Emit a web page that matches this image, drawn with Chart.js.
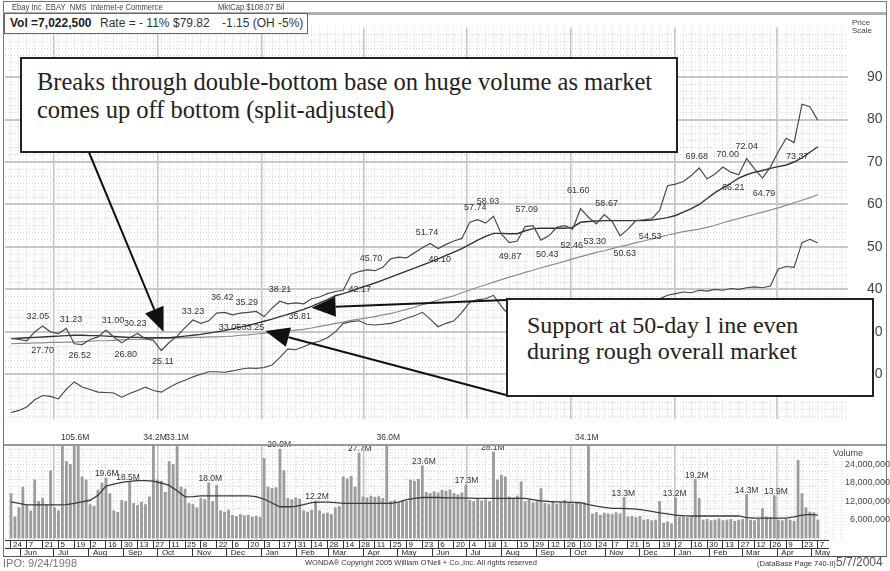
<!DOCTYPE html>
<html>
<head>
<meta charset="utf-8">
<title>EBAY daily chart</title>
<script src="https://cdn.jsdelivr.net/npm/chart.js@4.4.1/dist/chart.umd.min.js"></script>
<style>
  html, body { margin: 0; padding: 0; background: #fff; }
  body { width: 890px; height: 571px; position: relative; overflow: hidden;
         font-family: "Liberation Sans", Arial, sans-serif; color: #333; }
  canvas { position: absolute; left: 0; }
  #price { top: 0; }
  #vol { top: 420px; }
  .abs { position: absolute; white-space: nowrap; }
  .narrow { transform: scaleX(0.8); transform-origin: left center; }
  .line { position: absolute; background: #aaa; }
  .note { position: absolute; background: #fff; border: 2px solid #222;
          font-family: "Liberation Serif", "Times New Roman", serif; font-size: 24px; color: #222; }
  .note div { position: absolute; white-space: nowrap; }
</style>
</head>
<body>
<canvas id="price" width="890" height="446"></canvas>
<canvas id="vol" width="890" height="137"></canvas>

<!-- frame and panel rules -->
<div class="line" style="left:3px;top:1px;width:884px;height:1px;background:#777"></div>
<div class="line" style="left:3px;top:1px;width:1px;height:556px;background:#777"></div>
<div class="line" style="left:886px;top:1px;width:1px;height:556px;background:#777"></div>
<div class="line" style="left:3px;top:556px;width:884px;height:1px;background:#555"></div>
<div class="line" style="left:4px;top:12px;width:882px;height:3px;background:#b0b0b0"></div>
<div class="line" style="left:4px;top:444px;width:882px;height:2px;background:#999"></div>

<!-- header -->
<div class="abs narrow" style="left:12px;top:1px;font-size:9.5px;color:#444">Ebay Inc&nbsp; EBAY&nbsp; NMS&nbsp; Internet-e Commerce</div>
<div class="abs narrow" style="left:218px;top:1px;font-size:9.5px;color:#444">MktCap $108.07 Bil</div>
<div class="abs" style="left:4px;top:13px;width:302px;height:19px;border:1px solid #666;background:#fff"></div>
<div class="abs" style="left:10px;top:16px;font-size:12px;font-weight:bold;color:#222">Vol =7,022,500</div>
<div class="abs" style="left:100px;top:16px;font-size:12px;color:#333">Rate = - 11%</div>
<div class="abs" style="left:173px;top:16px;font-size:12px;color:#333">$79.82</div>
<div class="abs" style="left:222px;top:16px;font-size:12px;color:#333">-1.15 (OH -5%)</div>
<div class="abs" style="left:852px;top:19px;font-size:8px;line-height:8px;color:#444">Price<br>Scale</div>
<div class="abs" style="left:833px;top:448px;font-size:9px;color:#444">Volume</div>

<!-- footer -->
<div class="abs" style="left:3px;top:557px;font-size:11px;color:#777">IPO: 9/24/1998</div>
<div class="abs" style="left:305px;top:558px;font-size:7.5px;color:#333">WONDA® Copyright 2005 William O'Neil + Co.,Inc. All rights reserved</div>
<div class="abs" style="left:757px;top:559px;font-size:7.5px;color:#333">(DataBase Page 740-II)</div>
<div class="abs" style="left:836px;top:555px;font-size:12px;color:#555">5/7/2004</div>

<!-- annotations -->
<div class="note" style="left:20px;top:57px;width:654px;height:92px;font-size:24.5px">
  <div style="left:15px;top:9px">Breaks through double-bottom base on huge volume as market</div>
  <div style="left:15px;top:37px">comes up off bottom (split-adjusted)</div>
</div>
<div class="note" style="left:506px;top:298px;width:364px;height:95px">
  <div style="left:19px;top:12px">Support at 50-day l ine even</div>
  <div style="left:19px;top:38px">during rough overall market</div>
</div>

<script>
// ---- data (weekly closes from Fri 24 May 2002) ----
const START = Date.UTC(2002, 4, 24);
const dayOf = (y, m, d) => (Date.UTC(y, m, d) - START) / 864e5;

const price = [28.5, 28.2, 27.9, 30.0, 31.4, 30.0, 29.6, 30.8, 27.2, 27.0,
  28.2, 28.8, 30.4, 28.8, 27.4, 28.6, 29.6, 28.4, 28.0, 25.6,
  27.5, 29.0, 31.0, 32.8, 32.0, 32.6, 34.4, 34.6, 34.0, 34.4,
  34.6, 34.8, 33.6, 35.6, 37.2, 36.6, 36.8, 36.6, 37.8, 38.2,
  39.0, 39.5, 39.8, 43.5, 44.2, 44.6, 44.4, 45.2, 47.2, 47.6,
  47.4, 48.6, 49.8, 50.8, 49.6, 50.6, 51.4, 52.0, 55.8, 56.4,
  55.6, 57.2, 53.0, 51.0, 51.4, 54.8, 55.0, 51.6, 52.6, 54.6,
  55.0, 54.2, 59.0, 57.0, 55.4, 57.6, 56.0, 52.6, 54.2, 56.2,
  56.4, 56.6, 58.6, 64.4, 64.8, 65.4, 66.8, 68.6, 66.0, 67.2,
  68.8, 67.6, 67.0, 70.8, 68.4, 66.2, 68.8, 72.4, 75.6, 74.6,
  83.6, 83.0, 79.8];

const ma50 = [28.4, 28.5, 28.6, 28.7, 28.8, 28.9, 29.0, 29.1, 29.2, 29.2,
  29.1, 29.1, 29.0, 28.9, 28.8, 28.7, 28.7, 28.6, 28.6, 28.6,
  28.6, 28.8, 29.0, 29.2, 29.4, 29.7, 30.0, 30.3, 30.7, 31.1,
  31.5, 32.0, 32.5, 33.0, 33.6, 34.1, 34.7, 35.3, 36.0, 36.8,
  37.6, 38.5, 39.0, 39.6, 40.3, 40.9, 41.5, 42.2, 42.9, 43.6,
  44.3, 45.0, 45.7, 46.4, 47.2, 48.0, 48.8, 49.6, 50.6, 51.6,
  52.5, 53.2, 53.2, 53.1, 53.1, 53.8, 54.3, 54.4, 54.4, 54.4,
  54.4, 54.6, 55.8, 56.0, 56.1, 56.2, 56.2, 56.2, 56.2, 56.2,
  56.2, 56.3, 56.6, 56.9, 57.4, 58.2, 59.0, 60.0, 61.4, 62.8,
  63.9, 65.0, 66.2, 67.0, 67.6, 68.0, 68.5, 68.9, 69.3, 70.0,
  71.0, 72.3, 73.6];

const ma200 = [27.2, 27.3, 27.3, 27.4, 27.4, 27.5, 27.5, 27.6, 27.6, 27.7,
  27.8, 27.9, 27.9, 28.0, 28.1, 28.2, 28.2, 28.3, 28.4, 28.5,
  28.5, 28.6, 28.6, 28.7, 28.7, 28.8, 28.8, 28.9, 29.0, 29.2,
  29.3, 29.5, 29.7, 29.8, 30.0, 30.2, 30.4, 30.6, 30.9, 31.3,
  31.6, 32.0, 32.3, 32.7, 33.0, 33.3, 33.6, 34.0, 34.3, 34.8,
  35.3, 35.8, 36.4, 36.9, 37.5, 38.0, 38.5, 39.2, 39.8, 40.5,
  41.1, 41.7, 42.3, 42.9, 43.4, 44.0, 44.5, 45.1, 45.6, 46.1,
  46.6, 47.2, 47.7, 48.2, 48.7, 49.1, 49.6, 50.1, 50.5, 51.0,
  51.4, 51.9, 52.3, 52.8, 53.2, 53.6, 53.9, 54.2, 54.6, 55.1,
  55.7, 56.2, 56.7, 57.2, 57.7, 58.2, 58.7, 59.2, 59.8, 60.4,
  61.0, 61.6, 62.3];

// relative strength line, drawn on the price panel
const rsLine = [11.0, 11.5, 12.3, 14.0, 15.0, 14.8, 14.2, 16.5, 18.2, 17.0,
  16.4, 15.8, 15.7, 15.6, 14.6, 15.5, 16.2, 17.0, 16.2, 15.8,
  16.9, 17.9, 18.6, 19.4, 20.0, 20.6, 20.6, 20.5, 20.8, 21.2,
  21.5, 21.4, 21.6, 22.2, 24.0, 26.0, 25.8, 26.5, 27.3, 27.8,
  28.6, 30.0, 32.0, 32.4, 32.6, 31.8, 31.6, 31.8, 32.0, 32.5,
  33.2, 33.8, 34.6, 33.0, 31.2, 32.0, 32.6, 34.6, 37.0, 37.6,
  37.8, 38.6, 36.0, 33.8, 33.5, 34.0, 34.8, 34.2, 35.0, 35.6,
  36.0, 36.4, 37.0, 36.2, 35.8, 36.4, 35.6, 34.8, 35.4, 36.2,
  36.6, 37.0, 37.8, 38.6, 39.0, 39.4, 39.2, 39.8, 39.6, 40.0,
  39.8, 40.2, 40.0, 40.4, 40.6, 40.4, 40.8, 44.8, 45.4, 45.2,
  51.0, 51.8, 50.9];

// volume in millions, two readings per week
const volume = [14.6, 7.0, 10.0, 16.7, 10.8, 9.0, 19.0, 12.0, 13.0, 11.0,
  22.0, 10.0, 9.0, 32.0, 25.0, 24.0, 105.6, 31.0, 20.0, 19.0,
  11.0, 10.5, 15.7, 18.0, 19.6, 14.5, 9.0, 8.5, 12.4, 12.0,
  18.5, 11.4, 10.8, 11.8, 11.0, 13.5, 34.2, 19.0, 18.6, 15.0,
  25.0, 24.0, 33.1, 16.7, 16.0, 11.4, 11.0, 10.0, 13.0, 12.6,
  18.0, 12.0, 17.3, 9.0, 8.6, 9.2, 7.5, 7.2, 7.8, 7.4,
  7.6, 7.0, 7.2, 6.8, 26.0, 16.7, 16.2, 16.5, 29.0, 22.0,
  13.0, 12.6, 13.2, 12.8, 9.0, 8.6, 9.2, 12.2, 9.0, 8.0,
  8.2, 7.8, 10.0, 10.4, 20.0, 19.4, 20.2, 16.7, 27.7, 13.5,
  13.2, 13.8, 13.4, 13.6, 13.0, 36.0, 12.0, 12.4, 11.6, 12.2,
  12.0, 19.0, 18.6, 19.2, 23.6, 15.0, 14.6, 15.2, 14.8, 15.7,
  15.4, 15.8, 14.6, 14.2, 14.8, 17.3, 12.4, 12.0, 12.8, 12.2,
  12.6, 12.0, 28.1, 19.0, 20.5, 20.0, 13.5, 13.2, 13.8, 18.4,
  12.0, 12.4, 11.6, 12.2, 16.2, 11.4, 11.0, 11.8, 11.2, 11.6,
  12.4, 11.5, 11.2, 11.8, 11.4, 11.5, 34.1, 8.0, 8.4, 7.6,
  8.2, 8.0, 7.8, 8.4, 8.0, 13.3, 7.0, 7.2, 6.8, 7.2,
  6.0, 6.2, 5.8, 6.0, 12.0, 5.0, 5.4, 4.8, 13.2, 7.0,
  7.2, 6.8, 7.0, 19.2, 13.0, 6.0, 6.2, 5.8, 6.0, 6.4,
  5.8, 6.0, 6.2, 5.6, 6.0, 6.2, 14.3, 6.0, 5.8, 6.2,
  9.7, 7.0, 6.8, 13.9, 6.0, 5.8, 6.2, 6.0, 5.6, 25.4,
  14.6, 10.0, 8.6, 8.4, 6.0];

// 50-day average volume (millions), weekly
const volAvg = [11.9, 11.4, 10.9, 10.9, 10.9, 10.9, 10.9, 11.0, 11.4, 11.9,
  12.4, 14.0, 17.0, 17.6, 18.2, 18.5, 18.8, 18.8, 18.6, 18.0,
  17.2, 15.5, 13.5, 13.6, 13.8, 13.8, 13.8, 13.8, 13.8, 13.8,
  13.8, 13.6, 12.8, 11.5, 10.3, 10.3, 10.4, 11.0, 11.6, 11.8,
  11.8, 11.6, 11.4, 11.4, 11.4, 11.4, 11.4, 11.4, 11.4, 11.8,
  12.6, 13.0, 13.3, 13.3, 13.3, 13.2, 13.2, 13.1, 13.1, 13.0,
  13.0, 13.0, 13.0, 13.0, 13.0, 13.0, 12.6, 12.2, 12.0, 11.9,
  11.8, 11.7, 11.6, 11.0, 10.5, 10.1, 9.8, 9.8, 9.7, 9.5,
  9.2, 8.8, 8.3, 8.0, 7.6, 7.4, 7.3, 7.3, 7.3, 7.3,
  7.3, 7.3, 7.3, 6.8, 6.6, 6.6, 6.6, 6.6, 6.6, 7.0,
  7.6, 7.8, 7.6];

// labelled highs (H) and lows (L): week number, price
const pivotWeeks = [3.4, 4.0, 7.6, 8.7, 12.9, 14.5, 15.7, 19.2, 23.0, 26.7, 27.7, 29.8,
  30.6, 34.0, 36.5, 44.1, 45.5, 52.6, 54.2, 58.7, 60.3, 63.1, 65.2, 67.8,
  70.9, 71.7, 73.8, 75.3, 77.6, 80.8, 86.7, 90.6, 91.3, 93.0, 95.2, 99.4];
const pivotValues = [32.05, 27.70, 31.23, 26.52, 31.00, 26.80, 30.23, 25.11, 33.23, 36.42, 33.05, 35.29,
  33.25, 38.21, 35.81, 42.17, 45.70, 51.74, 49.10, 57.74, 58.93, 49.87, 57.09, 50.43,
  52.46, 61.60, 53.30, 58.67, 50.63, 54.53, 69.68, 70.00, 66.21, 72.04, 64.79, 73.37];
const pivotKinds = ['H', 'L', 'H', 'L', 'H', 'L', 'H', 'L', 'H', 'H', 'L', 'H',
  'L', 'H', 'L', 'L', 'H', 'H', 'L', 'H', 'H', 'L', 'H', 'L',
  'L', 'H', 'L', 'H', 'L', 'L', 'H', 'H', 'L', 'H', 'L', 'L'];

// labelled volume spikes: week number, millions
const volLabelWeeks = [8.1, 12.1, 14.8, 18.2, 21.0, 25.2, 33.9, 38.7, 44.1, 47.7,
  52.2, 57.6, 60.9, 72.8, 77.4, 83.9, 86.7, 93.0, 96.7];
const volLabelValues = [105.6, 19.6, 18.5, 34.2, 33.1, 18.0, 29.0, 12.2, 27.7, 36.0,
  23.6, 17.3, 28.1, 34.1, 13.3, 13.2, 19.2, 14.3, 13.9];

const priceTicks = [20, 30, 40, 50, 60, 70, 80, 90];
const volumeTicks = [6, 12, 18, 24];
const monthNames = ['Jan', 'Feb', 'Mar', 'Apr', 'May', 'Jun', 'Jul', 'Aug', 'Sep', 'Oct', 'Nov', 'Dec'];

// ---- helpers ----
const weekly = arr => arr.map((v, i) => ({ x: i * 7, y: v }));
const setTicks = vals => s => { s.ticks = vals.map(v => ({ value: v })); };
const range = (a, b, step) => { const r = []; for (let v = a; v <= b + 1e-9; v += step) r.push(+v.toFixed(4)); return r; };

const X_MIN = -5.3, X_MAX_PRICE = 740.7, X_MAX_VOL = 723;
const quarterDays = [dayOf(2002, 6, 1), dayOf(2002, 9, 1), dayOf(2003, 0, 1), dayOf(2003, 3, 1),
  dayOf(2003, 6, 1), dayOf(2003, 9, 1), dayOf(2004, 0, 1), dayOf(2004, 3, 1)];
const weekDays = range(0, 735, 7);
const dayTicks = range(0, 714, 14);
const monthTicks = [];
for (let m = 5; m <= 28; m++) monthTicks.push(dayOf(2002, m, 1));

const FONT = '"Liberation Sans", Arial, sans-serif';
Chart.defaults.font.family = FONT;
Chart.defaults.animation = false;

// grid-only axis (no labels, no size)
function gridAxis(extra) {
  return Object.assign({
    type: 'linear', display: true, offset: false,
    ticks: { display: false, autoSkip: false },
    border: { display: false },
    grid: { drawTicks: false, offset: false, color: '#d4d4d4', lineWidth: 1 }
  }, extra);
}

// ---- price panel plugins ----
const pivotLabels = {
  id: 'pivotLabels',
  afterDatasetsDraw(chart) {
    const { ctx, scales: { x, y } } = chart;
    ctx.save();
    ctx.font = '9px ' + FONT;
    ctx.fillStyle = '#333';
    ctx.textAlign = 'center';
    ctx.textBaseline = 'middle';
    pivotValues.forEach((v, i) => {
      const px = x.getPixelForValue(pivotWeeks[i] * 7);
      const py = y.getPixelForValue(v) + (pivotKinds[i] === 'H' ? -7 : 9);
      ctx.fillText(v.toFixed(2), px, py);
    });
    ctx.restore();
  }
};

// arrows from the note boxes to points on the chart (tip given in day/price)
const arrows = [
  { from: [88, 150], tip: [135, 30.0] },
  { from: [506, 300], tip: [266, 35.7] },
  { from: [506, 395], tip: [225, 30.2] }
];
const arrowPlugin = {
  id: 'arrows',
  afterDraw(chart) {
    const { ctx, scales: { x, y } } = chart;
    ctx.save();
    ctx.strokeStyle = '#111';
    ctx.fillStyle = '#111';
    ctx.lineWidth = 2;
    arrows.forEach(a => {
      const tx = x.getPixelForValue(a.tip[0]), ty = y.getPixelForValue(a.tip[1]);
      const [fx, fy] = a.from;
      const ang = Math.atan2(ty - fy, tx - fx);
      const len = 24, half = 10;
      const bx = tx - len * Math.cos(ang), by = ty - len * Math.sin(ang);
      ctx.beginPath(); ctx.moveTo(fx, fy); ctx.lineTo(bx, by); ctx.stroke();
      ctx.beginPath();
      ctx.moveTo(tx, ty);
      ctx.lineTo(bx + half * Math.sin(ang), by - half * Math.cos(ang));
      ctx.lineTo(bx - half * Math.sin(ang), by + half * Math.cos(ang));
      ctx.closePath(); ctx.fill();
    });
    ctx.restore();
  }
};

const lineDs = (label, data, color, width) => ({
  label, data: weekly(data), borderColor: color, borderWidth: width,
  pointRadius: 0, tension: 0, fill: false
});

new Chart(document.getElementById('price'), {
  type: 'line',
  data: {
    datasets: [
      lineDs('Price', price, '#4a4a4a', 1.2),
      lineDs('50-day MA', ma50, '#333', 1.4),
      lineDs('200-day MA', ma200, '#8c8c8c', 1.2),
      lineDs('RS line', rsLine, '#444', 1.1)
    ]
  },
  options: {
    responsive: false,
    layout: { padding: { left: 5, top: 13, right: 0, bottom: 0 } },
    plugins: { legend: { display: false }, tooltip: { enabled: false } },
    scales: {
      xg: gridAxis({ position: 'bottom', min: X_MIN, max: X_MAX_PRICE,
        border: { display: false, dash: [1, 2] },
        afterBuildTicks: setTicks(weekDays), afterFit: s => { s.height = 0; } }),
      x: gridAxis({ position: 'bottom', min: X_MIN, max: X_MAX_PRICE,
        grid: { drawTicks: false, offset: false, color: '#c4c4c4', lineWidth: 1.5 },
        afterBuildTicks: setTicks(quarterDays), afterFit: s => { s.height = 0; } }),
      yg: gridAxis({ position: 'left', min: 9.57, max: 101.7,
        border: { display: false, dash: [1, 2] },
        afterBuildTicks: setTicks(range(10, 100, 10 / 6)), afterFit: s => { s.width = 0; } }),
      y: {
        type: 'linear', position: 'right', min: 9.57, max: 101.7,
        afterBuildTicks: setTicks(priceTicks),
        afterFit: s => { s.width = 42; },
        border: { display: false },
        grid: { drawTicks: false, color: '#c8c8c8', lineWidth: 2 },
        ticks: { padding: 19, autoSkip: false, color: '#444',
          font: { family: '"Liberation Sans Narrow", ' + FONT, size: 14 } }
      }
    }
  },
  plugins: [pivotLabels, arrowPlugin]
});

// ---- volume panel ----
const volLabels = {
  id: 'volLabels',
  afterDatasetsDraw(chart) {
    const { ctx, scales: { x, y } } = chart;
    ctx.save();
    ctx.font = '8.5px ' + FONT;
    ctx.fillStyle = '#333';
    ctx.textAlign = 'center';
    ctx.textBaseline = 'middle';
    volLabelValues.forEach((v, i) => {
      const px = x.getPixelForValue(volLabelWeeks[i] * 7);
      const py = y.getPixelForValue(Math.min(v, 31.5)) - 4;
      ctx.fillText(v.toFixed(1) + 'M', px, py);
    });
    ctx.restore();
  }
};

const dateAxis = (ticks, weight, fmt, offset, h) => ({
  type: 'linear', position: 'bottom', weight, min: X_MIN, max: X_MAX_VOL, offset: false,
  afterBuildTicks: setTicks(ticks),
  afterFit: s => { s.height = h; },
  border: { display: true, color: '#333', width: 1 },
  grid: { drawOnChartArea: false, drawTicks: true, offset: false, tickLength: h, color: '#333', lineWidth: 1 },
  ticks: { autoSkip: false, maxRotation: 0, align: 'start', labelOffset: offset,
    padding: -h - 0.5, color: '#222', font: { size: 8 }, callback: fmt }
});

new Chart(document.getElementById('vol'), {
  type: 'bar',
  data: {
    datasets: [
      { type: 'line', label: '50-day avg volume', data: weekly(volAvg), borderColor: '#3a3a3a',
        borderWidth: 1.3, pointRadius: 0, tension: 0, order: 0 },
      { type: 'bar', label: 'Volume', data: volume.map((v, i) => ({ x: i * 3.5, y: v })),
        backgroundColor: '#9c9c9c', barThickness: 2.2, order: 1 }
    ]
  },
  options: {
    responsive: false,
    layout: { padding: { left: 5, top: 26, right: 0, bottom: 0 } },
    plugins: { legend: { display: false }, tooltip: { enabled: false } },
    scales: {
      xg: gridAxis({ position: 'bottom', weight: 0, min: X_MIN, max: X_MAX_VOL,
        border: { display: false, dash: [1, 2] },
        afterBuildTicks: setTicks(weekDays), afterFit: s => { s.height = 0; } }),
      x: gridAxis({ position: 'bottom', weight: 0, min: X_MIN, max: X_MAX_VOL,
        grid: { drawTicks: false, offset: false, color: '#c4c4c4', lineWidth: 1.5 },
        afterBuildTicks: setTicks(quarterDays), afterFit: s => { s.height = 0; } }),
      xd: dateAxis(dayTicks, 1, v => new Date(START + v * 864e5).getUTCDate(), 2, 8),
      xm: dateAxis(monthTicks, 2, v => monthNames[new Date(START + v * 864e5).getUTCMonth()], 4, 9),
      yg: gridAxis({ position: 'left', min: -0.49, max: 30,
        border: { display: false, dash: [1, 2] },
        afterBuildTicks: setTicks(range(0, 30, 2.4)), afterFit: s => { s.width = 0; } }),
      y: {
        type: 'linear', position: 'right', min: -0.49, max: 30,
        afterBuildTicks: setTicks(volumeTicks),
        afterFit: s => { s.width = 62; },
        border: { display: false },
        grid: { display: false },
        ticks: { padding: 3, crossAlign: 'far', autoSkip: false, color: '#444', font: { size: 9 },
          callback: v => (v * 1e6).toLocaleString('en-US') }
      }
    }
  },
  plugins: [volLabels]
});
</script>
</body>
</html>
